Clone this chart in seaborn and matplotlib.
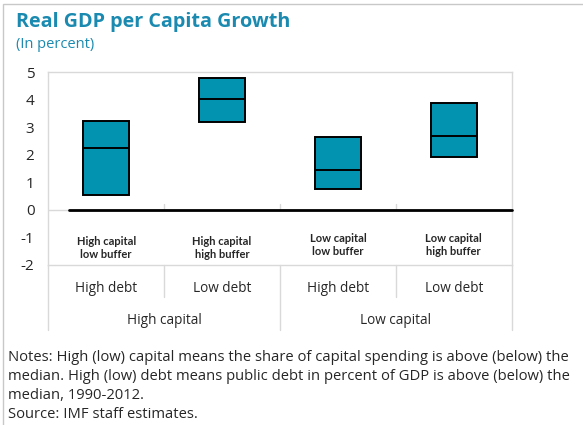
import matplotlib
matplotlib.use("Agg")
import matplotlib.pyplot as plt
import seaborn as sns
import pandas as pd
from matplotlib.lines import Line2D
from matplotlib.patches import Rectangle

# values (percent)
groups = ["High capital\nlow buffer", "High capital\nhigh buffer",
          "Low capital\nlow buffer", "Low capital\nhigh buffer"]
low = [0.56, 3.21, 0.77, 1.92]
median = [2.25, 4.03, 1.46, 2.69]
high = [3.23, 4.78, 2.65, 3.87]
debt_labels = ["High debt", "Low debt", "High debt", "Low debt"]
capital_labels = ["High capital", "Low capital"]
yticks = [-2, -1, 0, 1, 2, 3, 4, 5]

teal = "#0293b1"
title_col = "#1a8ab0"
grid_col = "#d9d9d9"

# five points per group -> Q1 = low, median, Q3 = high
rows = []
for g, lo, md, hi in zip(groups, low, median, high):
    for v in [lo, lo, md, hi, hi]:
        rows.append({"group": g, "value": v})
df = pd.DataFrame(rows)

sns.set_style("white")
plt.rcParams["font.family"] = ["Open Sans", "DejaVu Sans"]

W, H = 583, 425
fig = plt.figure(figsize=(W / 100, H / 100), dpi=100)
ax = fig.add_axes([48.3 / W, 1 - 265 / H, (511.7 - 48.3) / W, (265 - 72.3) / H])

sns.boxplot(data=df, x="group", y="value", ax=ax, color=teal, width=0.4,
            whis=0, showcaps=False, showfliers=False, linecolor="black",
            linewidth=1.4, saturation=1,
            medianprops={"color": "black", "linewidth": 1.4},
            whiskerprops={"linewidth": 0})

ax.set_xlim(-0.5, 3.5)
ax.set_ylim(-2, 5)
ax.set_yticks(yticks)
ax.set_yticklabels([str(t) for t in yticks], fontsize=11)
ax.set_xticks([])
ax.set_xlabel("")
ax.set_ylabel("")
ax.tick_params(axis="y", direction="in", length=4, color=grid_col, pad=10)
for s in ax.spines.values():
    s.set_color(grid_col)
    s.set_linewidth(1)

# x axis at zero with category ticks, plus black zero line
ax.axhline(0, color=grid_col, lw=1, zorder=1)
for xb in [0.5, 1.5, 2.5]:
    ax.plot([xb, xb], [0, 0.2], color=grid_col, lw=1, zorder=1)
ax.plot([-0.32, 3.5], [0, 0], color="black", lw=2, zorder=3, clip_on=False)

# labels inside plot
label_y = [-1.38, -1.38, -1.27, -1.27]
for i, (g, yy) in enumerate(zip(groups, label_y)):
    ax.text(i, yy, g, ha="center", va="center", fontsize=8,
            fontweight="bold", family=["Lato", "DejaVu Sans"], linespacing=1.25)

# category table below the plot
cols = [48.3 + 115.85 * k for k in range(5)]
for k, xx in enumerate(cols):
    yb = 330 if k % 2 == 0 else 297
    fig.add_artist(Line2D([xx / W, xx / W], [1 - 265 / H, 1 - yb / H],
                          color=grid_col, lw=1))
for k, lab in enumerate(debt_labels):
    xc = (cols[k] + cols[k + 1]) / 2
    fig.text(xc / W, 1 - 288 / H, lab, ha="center", va="center", fontsize=9.8)
for k, lab in enumerate(capital_labels):
    xc = (cols[2 * k] + cols[2 * k + 2]) / 2
    fig.text(xc / W, 1 - 321 / H, lab, ha="center", va="center", fontsize=9.8)

# title and notes
fig.text(16 / W, 1 - 22 / H, "Real GDP per Capita Growth", fontsize=14.2,
         fontweight="bold", color=title_col, va="center")
fig.text(16 / W, 1 - 45 / H, "(In percent)", fontsize=10.5, color=title_col,
         va="center")
notes = ("Notes: High (low) capital means the share of capital spending is above (below) the\n"
         "median. High (low) debt means public debt in percent of GDP is above (below) the\n"
         "median, 1990-2012.\n"
         "Source: IMF staff estimates.")
fig.text(8 / W, 1 - 350 / H, notes, fontsize=10.6, va="top", linespacing=1.36)

fig.add_artist(Rectangle((3 / W, -0.05), 1.1, 1 - 4 / H + 0.05,
                         transform=fig.transFigure, fill=False,
                         edgecolor="#c8c8c8", lw=1))

fig.savefig("out.png", dpi=100)
